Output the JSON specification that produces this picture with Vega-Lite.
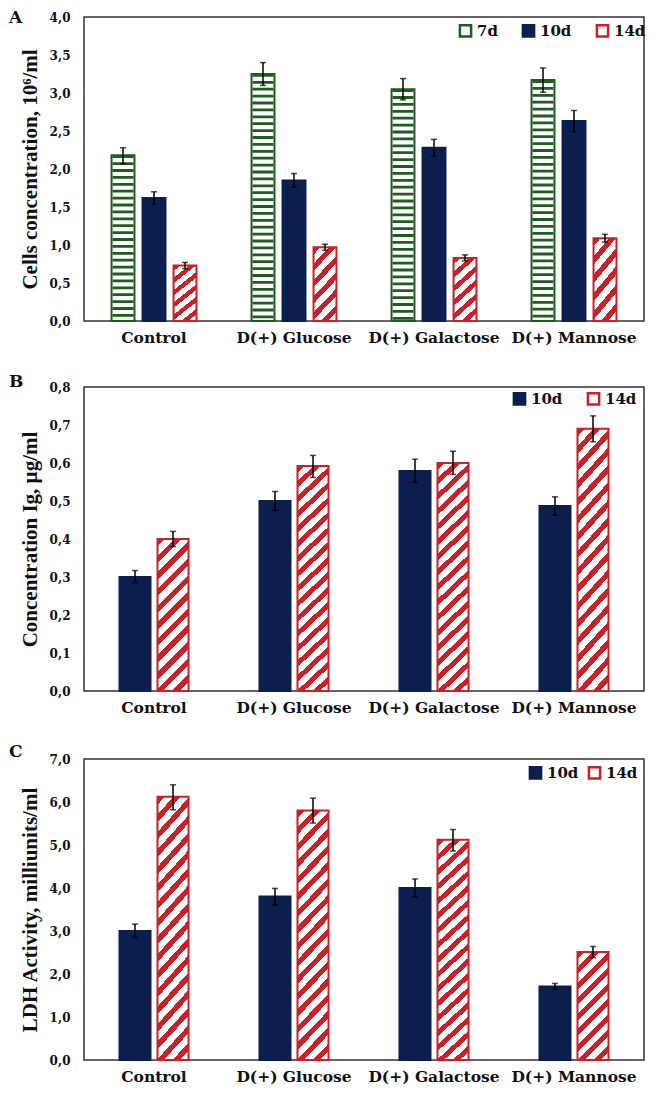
{
"$schema":"https://vega.github.io/schema/vega-lite/v6.json",
"background":"#ffffff",
"padding":{"left":8,"top":8,"right":10,"bottom":5},
"spacing":25,
"config":{
 "view":{"stroke":"#333333","strokeWidth":1.5},
 "axis":{"grid":false,"ticks":false,"domain":false,"labelOverlap":false,"labelFont":"DejaVu Serif","labelFontWeight":"bold","labelColor":"#111111","titleColor":"#111111"},
 "title":{"font":"DejaVu Serif","fontSize":17,"fontWeight":"bold","anchor":"start","frame":"group","dx":-75,"color":"#111111"},
 "legend":{"orient":"none","direction":"horizontal","title":null,"symbolType":"square","symbolSize":125,"symbolStrokeWidth":2.5,"labelFont":"DejaVu Serif","labelFontWeight":"bold","labelFontSize":15,"labelColor":"#111111","labelOffset":4,"padding":0}
},
"datasets":{
 "a":[
  {"cat":"Control","series":"7d","val":2.18,"lo":2.07,"hi":2.28},
  {"cat":"Control","series":"10d","val":1.62,"lo":1.54,"hi":1.70},
  {"cat":"Control","series":"14d","val":0.73,"lo":0.69,"hi":0.77},
  {"cat":"D(+) Glucose","series":"7d","val":3.25,"lo":3.10,"hi":3.40},
  {"cat":"D(+) Glucose","series":"10d","val":1.85,"lo":1.76,"hi":1.94},
  {"cat":"D(+) Glucose","series":"14d","val":0.97,"lo":0.93,"hi":1.01},
  {"cat":"D(+) Galactose","series":"7d","val":3.05,"lo":2.91,"hi":3.19},
  {"cat":"D(+) Galactose","series":"10d","val":2.28,"lo":2.17,"hi":2.39},
  {"cat":"D(+) Galactose","series":"14d","val":0.83,"lo":0.79,"hi":0.87},
  {"cat":"D(+) Mannose","series":"7d","val":3.17,"lo":3.01,"hi":3.33},
  {"cat":"D(+) Mannose","series":"10d","val":2.63,"lo":2.49,"hi":2.77},
  {"cat":"D(+) Mannose","series":"14d","val":1.09,"lo":1.04,"hi":1.14}
 ],
 "b":[
  {"cat":"Control","series":"10d","val":0.30,"lo":0.285,"hi":0.317},
  {"cat":"Control","series":"14d","val":0.40,"lo":0.38,"hi":0.42},
  {"cat":"D(+) Glucose","series":"10d","val":0.50,"lo":0.475,"hi":0.525},
  {"cat":"D(+) Glucose","series":"14d","val":0.592,"lo":0.562,"hi":0.62},
  {"cat":"D(+) Galactose","series":"10d","val":0.579,"lo":0.549,"hi":0.61},
  {"cat":"D(+) Galactose","series":"14d","val":0.60,"lo":0.57,"hi":0.631},
  {"cat":"D(+) Mannose","series":"10d","val":0.487,"lo":0.463,"hi":0.511},
  {"cat":"D(+) Mannose","series":"14d","val":0.69,"lo":0.656,"hi":0.724}
 ],
 "c":[
  {"cat":"Control","series":"10d","val":3.0,"lo":2.85,"hi":3.16},
  {"cat":"Control","series":"14d","val":6.12,"lo":5.82,"hi":6.40},
  {"cat":"D(+) Glucose","series":"10d","val":3.80,"lo":3.61,"hi":3.99},
  {"cat":"D(+) Glucose","series":"14d","val":5.80,"lo":5.51,"hi":6.09},
  {"cat":"D(+) Galactose","series":"10d","val":4.0,"lo":3.79,"hi":4.21},
  {"cat":"D(+) Galactose","series":"14d","val":5.12,"lo":4.86,"hi":5.36},
  {"cat":"D(+) Mannose","series":"10d","val":1.71,"lo":1.64,"hi":1.78},
  {"cat":"D(+) Mannose","series":"14d","val":2.51,"lo":2.38,"hi":2.64}
 ]
},
"vconcat":[
 {
  "title":{"text":"A","offset":-16},
  "width":560,"height":304,
  "data":{"name":"a"},
  "encoding":{
   "x":{"field":"cat","type":"nominal","sort":null,"scale":{"paddingInner":0.3357,"paddingOuter":0.1679},"axis":{"title":null,"labelAngle":0,"labelFontSize":15.5,"labelPadding":9}},
   "xOffset":{"field":"series","type":"nominal","sort":null,"scale":{"paddingInner":0.26,"paddingOuter":0.13}}
  },
  "layer":[
   {"mark":{"type":"bar","strokeWidth":2},
    "encoding":{
     "y":{"field":"val","type":"quantitative","scale":{"domain":[0,4],"nice":false},"axis":{"title":"Cells concentration, 10⁶/ml","values":[0,0.5,1,1.5,2,2.5,3,3.5,4],"labelExpr":"replace(format(datum.value,'.1f'),'.',',')","labelFontSize":12,"labelPadding":14,"titleFont":"Liberation Serif","titleFontSize":21,"titleFontWeight":"bold","titlePadding":9}},
     "fill":{"condition":{"test":"datum.series==='14d'","value":{"gradient":"linear","x1":0,"y1":0,"x2":0.394,"y2":1.199,"stops":[
       {"offset":0,"color":"#cc1f27"},{"offset":0.075,"color":"#cc1f27"},{"offset":0.075,"color":"#ffffff"},{"offset":0.1667,"color":"#ffffff"},
       {"offset":0.1667,"color":"#cc1f27"},{"offset":0.2417,"color":"#cc1f27"},{"offset":0.2417,"color":"#ffffff"},{"offset":0.3333,"color":"#ffffff"},
       {"offset":0.3333,"color":"#cc1f27"},{"offset":0.4083,"color":"#cc1f27"},{"offset":0.4083,"color":"#ffffff"},{"offset":0.5,"color":"#ffffff"},
       {"offset":0.5,"color":"#cc1f27"},{"offset":0.575,"color":"#cc1f27"},{"offset":0.575,"color":"#ffffff"},{"offset":0.6667,"color":"#ffffff"},
       {"offset":0.6667,"color":"#cc1f27"},{"offset":0.7417,"color":"#cc1f27"},{"offset":0.7417,"color":"#ffffff"},{"offset":0.8333,"color":"#ffffff"},
       {"offset":0.8333,"color":"#cc1f27"},{"offset":0.9083,"color":"#cc1f27"},{"offset":0.9083,"color":"#ffffff"},{"offset":1,"color":"#ffffff"}]}},
      "field":"series","type":"nominal","sort":null,
      "scale":{"domain":["7d","10d","14d"],"range":["#ffffff","#0b1f4f","#ffffff"]},
      "legend":{"legendX":374,"legendY":6,"columnPadding":19}},
     "stroke":{"field":"series","type":"nominal","sort":null,
      "scale":{"domain":["7d","10d","14d"],"range":["#1f5c1f","#0b1f4f","#cc1f27"]},
      "legend":{"legendX":374,"legendY":6,"columnPadding":19}}
    }},
   {"transform":[{"filter":"datum.series==='7d'"}],
    "mark":{"type":"rule","strokeWidth":21,"strokeDash":[2.8,4.1],"color":"#1f5c1f"},
    "encoding":{"y":{"field":"val","type":"quantitative","axis":{"title":"Cells concentration, 10⁶/ml","values":[0,0.5,1,1.5,2,2.5,3,3.5,4],"labelExpr":"replace(format(datum.value,'.1f'),'.',',')","labelFontSize":12,"labelPadding":14,"titleFont":"Liberation Serif","titleFontSize":21,"titleFontWeight":"bold","titlePadding":9}},"y2":{"datum":0}}},
   {"mark":{"type":"rule","color":"#000000","strokeWidth":1.5},
    "encoding":{"y":{"field":"lo","type":"quantitative","axis":{"title":"Cells concentration, 10⁶/ml","values":[0,0.5,1,1.5,2,2.5,3,3.5,4],"labelExpr":"replace(format(datum.value,'.1f'),'.',',')","labelFontSize":12,"labelPadding":14,"titleFont":"Liberation Serif","titleFontSize":21,"titleFontWeight":"bold","titlePadding":9}},"y2":{"field":"hi"}}},
   {"mark":{"type":"tick","color":"#000000","size":6,"thickness":1.5},
    "encoding":{"y":{"field":"hi","type":"quantitative","axis":{"title":"Cells concentration, 10⁶/ml","values":[0,0.5,1,1.5,2,2.5,3,3.5,4],"labelExpr":"replace(format(datum.value,'.1f'),'.',',')","labelFontSize":12,"labelPadding":14,"titleFont":"Liberation Serif","titleFontSize":21,"titleFontWeight":"bold","titlePadding":9}}}},
   {"mark":{"type":"tick","color":"#000000","size":6,"thickness":1.5},
    "encoding":{"y":{"field":"lo","type":"quantitative","axis":{"title":"Cells concentration, 10⁶/ml","values":[0,0.5,1,1.5,2,2.5,3,3.5,4],"labelExpr":"replace(format(datum.value,'.1f'),'.',',')","labelFontSize":12,"labelPadding":14,"titleFont":"Liberation Serif","titleFontSize":21,"titleFontWeight":"bold","titlePadding":9}}}}
  ]
 },
 {
  "title":{"text":"B","offset":-10},
  "width":560,"height":304,
  "data":{"name":"b"},
  "encoding":{
   "x":{"field":"cat","type":"nominal","sort":null,"scale":{"paddingInner":0.457,"paddingOuter":0.2286},"axis":{"title":null,"labelAngle":0,"labelFontSize":15.5,"labelPadding":9}},
   "xOffset":{"field":"series","type":"nominal","sort":null,"scale":{"paddingInner":0.184,"paddingOuter":0.092}}
  },
  "layer":[
   {"mark":{"type":"bar","strokeWidth":2},
    "encoding":{
     "y":{"field":"val","type":"quantitative","scale":{"domain":[0,0.8],"nice":false},"axis":{"title":"Concentration Ig, µg/ml","values":[0,0.1,0.2,0.3,0.4,0.5,0.6,0.7,0.8],"labelExpr":"replace(format(datum.value,'.1f'),'.',',')","labelFontSize":12,"labelPadding":14,"titleFont":"Liberation Serif","titleFontSize":21,"titleFontWeight":"bold","titlePadding":9}},
     "fill":{"condition":[
       {"test":"datum.series==='14d' && datum.cat==='Control'","value":{"gradient":"linear","x1":0,"y1":0,"x2":0.2357,"y2":1.1558,"stops":[
       {"offset":0,"color":"#cc1f27"},{"offset":0.0409,"color":"#cc1f27"},{"offset":0.0409,"color":"#ffffff"},{"offset":0.0909,"color":"#ffffff"},
       {"offset":0.0909,"color":"#cc1f27"},{"offset":0.1318,"color":"#cc1f27"},{"offset":0.1318,"color":"#ffffff"},{"offset":0.1818,"color":"#ffffff"},
       {"offset":0.1818,"color":"#cc1f27"},{"offset":0.2227,"color":"#cc1f27"},{"offset":0.2227,"color":"#ffffff"},{"offset":0.2727,"color":"#ffffff"},
       {"offset":0.2727,"color":"#cc1f27"},{"offset":0.3136,"color":"#cc1f27"},{"offset":0.3136,"color":"#ffffff"},{"offset":0.3636,"color":"#ffffff"},
       {"offset":0.3636,"color":"#cc1f27"},{"offset":0.4045,"color":"#cc1f27"},{"offset":0.4045,"color":"#ffffff"},{"offset":0.4545,"color":"#ffffff"},
       {"offset":0.4545,"color":"#cc1f27"},{"offset":0.4954,"color":"#cc1f27"},{"offset":0.4954,"color":"#ffffff"},{"offset":0.5455,"color":"#ffffff"},
       {"offset":0.5455,"color":"#cc1f27"},{"offset":0.5864,"color":"#cc1f27"},{"offset":0.5864,"color":"#ffffff"},{"offset":0.6364,"color":"#ffffff"},
       {"offset":0.6364,"color":"#cc1f27"},{"offset":0.6773,"color":"#cc1f27"},{"offset":0.6773,"color":"#ffffff"},{"offset":0.7273,"color":"#ffffff"},
       {"offset":0.7273,"color":"#cc1f27"},{"offset":0.7682,"color":"#cc1f27"},{"offset":0.7682,"color":"#ffffff"},{"offset":0.8182,"color":"#ffffff"},
       {"offset":0.8182,"color":"#cc1f27"},{"offset":0.8591,"color":"#cc1f27"},{"offset":0.8591,"color":"#ffffff"},{"offset":0.9091,"color":"#ffffff"},
       {"offset":0.9091,"color":"#cc1f27"},{"offset":0.95,"color":"#cc1f27"},{"offset":0.95,"color":"#ffffff"},{"offset":1,"color":"#ffffff"}]}},
       {"test":"datum.series==='14d'","value":{"gradient":"linear","x1":0,"y1":0,"x2":0.1435,"y2":1.1106,"stops":[
       {"offset":0,"color":"#cc1f27"},{"offset":0.0265,"color":"#cc1f27"},{"offset":0.0265,"color":"#ffffff"},{"offset":0.0588,"color":"#ffffff"},
       {"offset":0.0588,"color":"#cc1f27"},{"offset":0.0853,"color":"#cc1f27"},{"offset":0.0853,"color":"#ffffff"},{"offset":0.1176,"color":"#ffffff"},
       {"offset":0.1176,"color":"#cc1f27"},{"offset":0.1441,"color":"#cc1f27"},{"offset":0.1441,"color":"#ffffff"},{"offset":0.1765,"color":"#ffffff"},
       {"offset":0.1765,"color":"#cc1f27"},{"offset":0.2030,"color":"#cc1f27"},{"offset":0.2030,"color":"#ffffff"},{"offset":0.2353,"color":"#ffffff"},
       {"offset":0.2353,"color":"#cc1f27"},{"offset":0.2618,"color":"#cc1f27"},{"offset":0.2618,"color":"#ffffff"},{"offset":0.2941,"color":"#ffffff"},
       {"offset":0.2941,"color":"#cc1f27"},{"offset":0.3206,"color":"#cc1f27"},{"offset":0.3206,"color":"#ffffff"},{"offset":0.3529,"color":"#ffffff"},
       {"offset":0.3529,"color":"#cc1f27"},{"offset":0.3794,"color":"#cc1f27"},{"offset":0.3794,"color":"#ffffff"},{"offset":0.4118,"color":"#ffffff"},
       {"offset":0.4118,"color":"#cc1f27"},{"offset":0.4383,"color":"#cc1f27"},{"offset":0.4383,"color":"#ffffff"},{"offset":0.4706,"color":"#ffffff"},
       {"offset":0.4706,"color":"#cc1f27"},{"offset":0.4971,"color":"#cc1f27"},{"offset":0.4971,"color":"#ffffff"},{"offset":0.5294,"color":"#ffffff"},
       {"offset":0.5294,"color":"#cc1f27"},{"offset":0.5559,"color":"#cc1f27"},{"offset":0.5559,"color":"#ffffff"},{"offset":0.5882,"color":"#ffffff"},
       {"offset":0.5882,"color":"#cc1f27"},{"offset":0.6147,"color":"#cc1f27"},{"offset":0.6147,"color":"#ffffff"},{"offset":0.6471,"color":"#ffffff"},
       {"offset":0.6471,"color":"#cc1f27"},{"offset":0.6736,"color":"#cc1f27"},{"offset":0.6736,"color":"#ffffff"},{"offset":0.7059,"color":"#ffffff"},
       {"offset":0.7059,"color":"#cc1f27"},{"offset":0.7324,"color":"#cc1f27"},{"offset":0.7324,"color":"#ffffff"},{"offset":0.7647,"color":"#ffffff"},
       {"offset":0.7647,"color":"#cc1f27"},{"offset":0.7912,"color":"#cc1f27"},{"offset":0.7912,"color":"#ffffff"},{"offset":0.8235,"color":"#ffffff"},
       {"offset":0.8235,"color":"#cc1f27"},{"offset":0.8500,"color":"#cc1f27"},{"offset":0.8500,"color":"#ffffff"},{"offset":0.8824,"color":"#ffffff"},
       {"offset":0.8824,"color":"#cc1f27"},{"offset":0.9089,"color":"#cc1f27"},{"offset":0.9089,"color":"#ffffff"},{"offset":0.9412,"color":"#ffffff"},
       {"offset":0.9412,"color":"#cc1f27"},{"offset":0.9677,"color":"#cc1f27"},{"offset":0.9677,"color":"#ffffff"},{"offset":1,"color":"#ffffff"}]}}],
      "field":"series","type":"nominal","sort":null,
      "scale":{"domain":["10d","14d"],"range":["#0b1f4f","#ffffff"]},
      "legend":{"legendX":428,"legendY":4,"columnPadding":19}},
     "stroke":{"field":"series","type":"nominal","sort":null,
      "scale":{"domain":["10d","14d"],"range":["#0b1f4f","#cc1f27"]},
      "legend":{"legendX":428,"legendY":4,"columnPadding":19}}
    }},
   {"mark":{"type":"rule","color":"#000000","strokeWidth":1.5},
    "encoding":{"y":{"field":"lo","type":"quantitative","axis":{"title":"Concentration Ig, µg/ml","values":[0,0.1,0.2,0.3,0.4,0.5,0.6,0.7,0.8],"labelExpr":"replace(format(datum.value,'.1f'),'.',',')","labelFontSize":12,"labelPadding":14,"titleFont":"Liberation Serif","titleFontSize":21,"titleFontWeight":"bold","titlePadding":9}},"y2":{"field":"hi"}}},
   {"mark":{"type":"tick","color":"#000000","size":6,"thickness":1.5},
    "encoding":{"y":{"field":"hi","type":"quantitative","axis":{"title":"Concentration Ig, µg/ml","values":[0,0.1,0.2,0.3,0.4,0.5,0.6,0.7,0.8],"labelExpr":"replace(format(datum.value,'.1f'),'.',',')","labelFontSize":12,"labelPadding":14,"titleFont":"Liberation Serif","titleFontSize":21,"titleFontWeight":"bold","titlePadding":9}}}},
   {"mark":{"type":"tick","color":"#000000","size":6,"thickness":1.5},
    "encoding":{"y":{"field":"lo","type":"quantitative","axis":{"title":"Concentration Ig, µg/ml","values":[0,0.1,0.2,0.3,0.4,0.5,0.6,0.7,0.8],"labelExpr":"replace(format(datum.value,'.1f'),'.',',')","labelFontSize":12,"labelPadding":14,"titleFont":"Liberation Serif","titleFontSize":21,"titleFontWeight":"bold","titlePadding":9}}}}
  ]
 },
 {
  "title":{"text":"C","offset":-8},
  "width":560,"height":301,
  "data":{"name":"c"},
  "encoding":{
   "x":{"field":"cat","type":"nominal","sort":null,"scale":{"paddingInner":0.457,"paddingOuter":0.2286},"axis":{"title":null,"labelAngle":0,"labelFontSize":15.5,"labelPadding":9}},
   "xOffset":{"field":"series","type":"nominal","sort":null,"scale":{"paddingInner":0.184,"paddingOuter":0.092}}
  },
  "layer":[
   {"mark":{"type":"bar","strokeWidth":2},
    "encoding":{
     "y":{"field":"val","type":"quantitative","scale":{"domain":[0,7],"nice":false},"axis":{"title":"LDH Activity, milliunits/ml","values":[0,1,2,3,4,5,6,7],"labelExpr":"replace(format(datum.value,'.1f'),'.',',')","labelFontSize":12,"labelPadding":14,"titleFont":"Liberation Serif","titleFontSize":21,"titleFontWeight":"bold","titlePadding":9}},
     "fill":{"condition":[
       {"test":"datum.series==='14d' && datum.cat==='D(+) Mannose'","value":{"gradient":"linear","x1":0,"y1":0,"x2":0.343,"y2":1.1895,"stops":[
       {"offset":0,"color":"#cc1f27"},{"offset":0.05,"color":"#cc1f27"},{"offset":0.05,"color":"#ffffff"},{"offset":0.1111,"color":"#ffffff"},
       {"offset":0.1111,"color":"#cc1f27"},{"offset":0.1611,"color":"#cc1f27"},{"offset":0.1611,"color":"#ffffff"},{"offset":0.2222,"color":"#ffffff"},
       {"offset":0.2222,"color":"#cc1f27"},{"offset":0.2722,"color":"#cc1f27"},{"offset":0.2722,"color":"#ffffff"},{"offset":0.3333,"color":"#ffffff"},
       {"offset":0.3333,"color":"#cc1f27"},{"offset":0.3833,"color":"#cc1f27"},{"offset":0.3833,"color":"#ffffff"},{"offset":0.4444,"color":"#ffffff"},
       {"offset":0.4444,"color":"#cc1f27"},{"offset":0.4944,"color":"#cc1f27"},{"offset":0.4944,"color":"#ffffff"},{"offset":0.5556,"color":"#ffffff"},
       {"offset":0.5556,"color":"#cc1f27"},{"offset":0.6056,"color":"#cc1f27"},{"offset":0.6056,"color":"#ffffff"},{"offset":0.6667,"color":"#ffffff"},
       {"offset":0.6667,"color":"#cc1f27"},{"offset":0.7167,"color":"#cc1f27"},{"offset":0.7167,"color":"#ffffff"},{"offset":0.7778,"color":"#ffffff"},
       {"offset":0.7778,"color":"#cc1f27"},{"offset":0.8278,"color":"#cc1f27"},{"offset":0.8278,"color":"#ffffff"},{"offset":0.8889,"color":"#ffffff"},
       {"offset":0.8889,"color":"#cc1f27"},{"offset":0.9389,"color":"#cc1f27"},{"offset":0.9389,"color":"#ffffff"},{"offset":1,"color":"#ffffff"}]}},
       {"test":"datum.series==='14d'","value":{"gradient":"linear","x1":0,"y1":0,"x2":0.1435,"y2":1.1106,"stops":[
       {"offset":0,"color":"#cc1f27"},{"offset":0.0265,"color":"#cc1f27"},{"offset":0.0265,"color":"#ffffff"},{"offset":0.0588,"color":"#ffffff"},
       {"offset":0.0588,"color":"#cc1f27"},{"offset":0.0853,"color":"#cc1f27"},{"offset":0.0853,"color":"#ffffff"},{"offset":0.1176,"color":"#ffffff"},
       {"offset":0.1176,"color":"#cc1f27"},{"offset":0.1441,"color":"#cc1f27"},{"offset":0.1441,"color":"#ffffff"},{"offset":0.1765,"color":"#ffffff"},
       {"offset":0.1765,"color":"#cc1f27"},{"offset":0.2030,"color":"#cc1f27"},{"offset":0.2030,"color":"#ffffff"},{"offset":0.2353,"color":"#ffffff"},
       {"offset":0.2353,"color":"#cc1f27"},{"offset":0.2618,"color":"#cc1f27"},{"offset":0.2618,"color":"#ffffff"},{"offset":0.2941,"color":"#ffffff"},
       {"offset":0.2941,"color":"#cc1f27"},{"offset":0.3206,"color":"#cc1f27"},{"offset":0.3206,"color":"#ffffff"},{"offset":0.3529,"color":"#ffffff"},
       {"offset":0.3529,"color":"#cc1f27"},{"offset":0.3794,"color":"#cc1f27"},{"offset":0.3794,"color":"#ffffff"},{"offset":0.4118,"color":"#ffffff"},
       {"offset":0.4118,"color":"#cc1f27"},{"offset":0.4383,"color":"#cc1f27"},{"offset":0.4383,"color":"#ffffff"},{"offset":0.4706,"color":"#ffffff"},
       {"offset":0.4706,"color":"#cc1f27"},{"offset":0.4971,"color":"#cc1f27"},{"offset":0.4971,"color":"#ffffff"},{"offset":0.5294,"color":"#ffffff"},
       {"offset":0.5294,"color":"#cc1f27"},{"offset":0.5559,"color":"#cc1f27"},{"offset":0.5559,"color":"#ffffff"},{"offset":0.5882,"color":"#ffffff"},
       {"offset":0.5882,"color":"#cc1f27"},{"offset":0.6147,"color":"#cc1f27"},{"offset":0.6147,"color":"#ffffff"},{"offset":0.6471,"color":"#ffffff"},
       {"offset":0.6471,"color":"#cc1f27"},{"offset":0.6736,"color":"#cc1f27"},{"offset":0.6736,"color":"#ffffff"},{"offset":0.7059,"color":"#ffffff"},
       {"offset":0.7059,"color":"#cc1f27"},{"offset":0.7324,"color":"#cc1f27"},{"offset":0.7324,"color":"#ffffff"},{"offset":0.7647,"color":"#ffffff"},
       {"offset":0.7647,"color":"#cc1f27"},{"offset":0.7912,"color":"#cc1f27"},{"offset":0.7912,"color":"#ffffff"},{"offset":0.8235,"color":"#ffffff"},
       {"offset":0.8235,"color":"#cc1f27"},{"offset":0.8500,"color":"#cc1f27"},{"offset":0.8500,"color":"#ffffff"},{"offset":0.8824,"color":"#ffffff"},
       {"offset":0.8824,"color":"#cc1f27"},{"offset":0.9089,"color":"#cc1f27"},{"offset":0.9089,"color":"#ffffff"},{"offset":0.9412,"color":"#ffffff"},
       {"offset":0.9412,"color":"#cc1f27"},{"offset":0.9677,"color":"#cc1f27"},{"offset":0.9677,"color":"#ffffff"},{"offset":1,"color":"#ffffff"}]}}],
      "field":"series","type":"nominal","sort":null,
      "scale":{"domain":["10d","14d"],"range":["#0b1f4f","#ffffff"]},
      "legend":{"legendX":444,"legendY":6,"columnPadding":4}},
     "stroke":{"field":"series","type":"nominal","sort":null,
      "scale":{"domain":["10d","14d"],"range":["#0b1f4f","#cc1f27"]},
      "legend":{"legendX":444,"legendY":6,"columnPadding":4}}
    }},
   {"mark":{"type":"rule","color":"#000000","strokeWidth":1.5},
    "encoding":{"y":{"field":"lo","type":"quantitative","axis":{"title":"LDH Activity, milliunits/ml","values":[0,1,2,3,4,5,6,7],"labelExpr":"replace(format(datum.value,'.1f'),'.',',')","labelFontSize":12,"labelPadding":14,"titleFont":"Liberation Serif","titleFontSize":21,"titleFontWeight":"bold","titlePadding":9}},"y2":{"field":"hi"}}},
   {"mark":{"type":"tick","color":"#000000","size":6,"thickness":1.5},
    "encoding":{"y":{"field":"hi","type":"quantitative","axis":{"title":"LDH Activity, milliunits/ml","values":[0,1,2,3,4,5,6,7],"labelExpr":"replace(format(datum.value,'.1f'),'.',',')","labelFontSize":12,"labelPadding":14,"titleFont":"Liberation Serif","titleFontSize":21,"titleFontWeight":"bold","titlePadding":9}}}},
   {"mark":{"type":"tick","color":"#000000","size":6,"thickness":1.5},
    "encoding":{"y":{"field":"lo","type":"quantitative","axis":{"title":"LDH Activity, milliunits/ml","values":[0,1,2,3,4,5,6,7],"labelExpr":"replace(format(datum.value,'.1f'),'.',',')","labelFontSize":12,"labelPadding":14,"titleFont":"Liberation Serif","titleFontSize":21,"titleFontWeight":"bold","titlePadding":9}}}}
  ]
 }
],
"resolve":{"scale":{"fill":"independent","stroke":"independent","xOffset":"independent"}}
}
